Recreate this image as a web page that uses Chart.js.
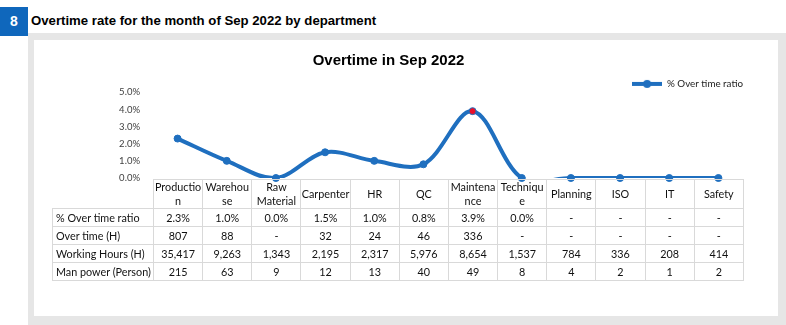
<!DOCTYPE html>
<html>
<head>
<meta charset="utf-8">
<script src="https://cdn.jsdelivr.net/npm/chart.js@4.4.0/dist/chart.umd.min.js"></script>
<style>
html,body{margin:0;padding:0;background:#fff;}
body{width:786px;height:325px;position:relative;overflow:hidden;font-family:"Liberation Sans",Arial,sans-serif;}
#num{position:absolute;left:0;top:7px;width:28px;height:29px;background:#0f67bc;color:#fff;font-weight:bold;font-size:14px;line-height:29px;text-align:center;}
#head{position:absolute;left:31px;top:13px;font-weight:bold;font-size:13.2px;color:#000;white-space:nowrap;}
#frame{position:absolute;left:28px;top:33px;width:758px;height:292px;background:#e6e6e6;}
#inner{position:absolute;left:34px;top:40px;width:744px;height:276px;background:#fff;}
#chart{position:absolute;left:34px;top:40px;}
#tbl{position:absolute;border-collapse:collapse;table-layout:fixed;font-family:Lato,"Noto Sans",sans-serif;font-size:10.8px;color:#111;}
#tbl td{border:1px solid #d9d9d9;padding:0 1px;height:17px;line-height:12px;text-align:center;vertical-align:middle;overflow:hidden;}
#tbl td.lab{text-align:left;padding-left:3px;white-space:nowrap;}
#tbl tr.hd td{height:27px;line-height:14px;word-break:normal;overflow-wrap:anywhere;padding:0;}
#tbl tr.hd td.corner{border-top:none;border-left:none;}
</style>
</head>
<body>
<div id="num">8</div>
<div id="head">Overtime rate for the month of Sep 2022 by department</div>
<div id="frame"></div>
<div id="inner"></div>
<canvas id="chart" width="744" height="276"></canvas>
<table id="tbl"></table>
<script>
// ---- data ----
const categories = ["Production","Warehouse","Raw Material","Carpenter","HR","QC","Maintenance","Technique","Planning","ISO","IT","Safety"];
const overtimeRate = [2.3, 1.0, 0.0, 1.5, 1.0, 0.8, 3.9, 0.0, null, null, null, null]; // %
const overtimeHours = [807, 88, null, 32, 24, 46, 336, null, null, null, null, null];
const workingHours = [35417, 9263, 1343, 2195, 2317, 5976, 8654, 1537, 784, 336, 208, 414];
const manpower = [215, 63, 9, 12, 13, 40, 49, 8, 4, 2, 1, 2];
const yTicks = [0, 1, 2, 3, 4, 5];
const rowLabels = ["% Over time ratio", "Over time (H)", "Working Hours (H)", "Man power (Person)"];
const seriesName = "% Over time ratio";
const chartTitle = "Overtime in Sep 2022";

const BLUE = "#1f6fbf";
const RED = "#e8102a";
const plotted = overtimeRate.map(v => v === null ? 0 : v);
const maxVal = Math.max(...plotted);

// legend icon: thick line with a round marker
const icon = document.createElement("canvas");
icon.width = 30; icon.height = 10;
(function(){
  const g = icon.getContext("2d");
  g.strokeStyle = BLUE; g.lineWidth = 4;
  g.beginPath(); g.moveTo(0,5); g.lineTo(30,5); g.stroke();
  g.fillStyle = BLUE; g.beginPath(); g.arc(15,5,4,0,Math.PI*2); g.fill();
})();

const legendFit = {
  id: "legendFit",
  beforeInit(chart){
    const lg = chart.legend;
    if (!lg) return;
    const f = lg.fit;
    lg.fit = function(){ f.call(this); this.height = Math.max(0, this.height - 6.5); };
  }
};

const chart = new Chart(document.getElementById("chart"), {
  type: "line",
  data: {
    labels: categories,
    datasets: [
      {
        label: seriesName,
        data: plotted,
        borderColor: BLUE,
        borderWidth: 4,
        pointRadius: 0,
        fill: false,
        tension: 0.34,
        capBezierPoints: false,
        clip: {left: 20, right: 20, top: 20, bottom: 0},
        order: 2
      },
      {
        label: "markers",
        data: plotted,
        showLine: false,
        pointRadius: 3.5,
        pointBorderWidth: 1,
        pointBorderColor: BLUE,
        pointBackgroundColor: plotted.map(v => v === maxVal ? RED : BLUE),
        clip: false,
        order: 1
      }
    ]
  },
  options: {
    responsive: false,
    animation: false,
    devicePixelRatio: 1,
    events: [],
    layout: {padding: {top: 12, right: 35, bottom: 138, left: 0}},
    plugins: {
      title: {
        display: true,
        text: chartTitle,
        color: "#000",
        font: {family: "'Liberation Sans', Arial, sans-serif", size: 15, weight: "bold"},
        padding: {top: 0, bottom: 9}
      },
      legend: {
        display: true,
        position: "top",
        align: "end",
        labels: {
          usePointStyle: true,
          pointStyleWidth: 30,
          padding: 0,
          color: "#222",
          font: {family: "Lato, sans-serif", size: 9.8},
          generateLabels: (c) => [{
            text: c.data.datasets[0].label,
            pointStyle: icon,
            fillStyle: BLUE,
            strokeStyle: BLUE,
            lineWidth: 0,
            hidden: false,
            datasetIndex: 0,
            fontColor: "#222"
          }]
        }
      },
      tooltip: {enabled: false}
    },
    scales: {
      x: {
        type: "category",
        display: false,
        offset: true
      },
      y: {
        min: 0,
        max: 5,
        grid: {display: false, drawTicks: false},
        border: {display: false},
        afterBuildTicks: s => { s.ticks = yTicks.map(v => ({value: v})); },
        afterFit: s => { s.width = 119; },
        ticks: {
          padding: 13,
          color: "#404040",
          font: {family: "Lato, sans-serif", size: 9.5},
          callback: v => Number(v).toFixed(1) + "%"
        }
      }
    }
  },
  plugins: [legendFit]
});

// ---- data table aligned to the category scale ----
(function buildTable(){
  const ca = chart.chartArea;
  const canvasLeft = 34, canvasTop = 40;
  const labelW = 101;
  const colW = (ca.right - ca.left) / categories.length;
  const tbl = document.getElementById("tbl");
  tbl.style.left = (canvasLeft + ca.left - labelW) + "px";
  tbl.style.top = (canvasTop + ca.bottom + 1) + "px";
  tbl.style.width = (labelW + colW * categories.length) + "px";
  let html = "<colgroup><col style='width:" + labelW + "px'>";
  categories.forEach(() => { html += "<col style='width:" + colW + "px'>"; });
  html += "</colgroup>";
  html += "<tr class='hd'><td class='corner'></td>" + categories.map(c => "<td>" + c + "</td>").join("") + "</tr>";
  const fmtPct = v => v === null ? "-" : v.toFixed(1) + "%";
  const fmtNum = v => v === null ? "-" : v.toLocaleString("en-US");
  const rows = [overtimeRate.map(fmtPct), overtimeHours.map(fmtNum), workingHours.map(fmtNum), manpower.map(fmtNum)];
  rows.forEach((r, i) => {
    html += "<tr><td class='lab'>" + rowLabels[i] + "</td>" + r.map(t => "<td>" + t + "</td>").join("") + "</tr>";
  });
  tbl.innerHTML = html;
})();
</script>
</body>
</html>
